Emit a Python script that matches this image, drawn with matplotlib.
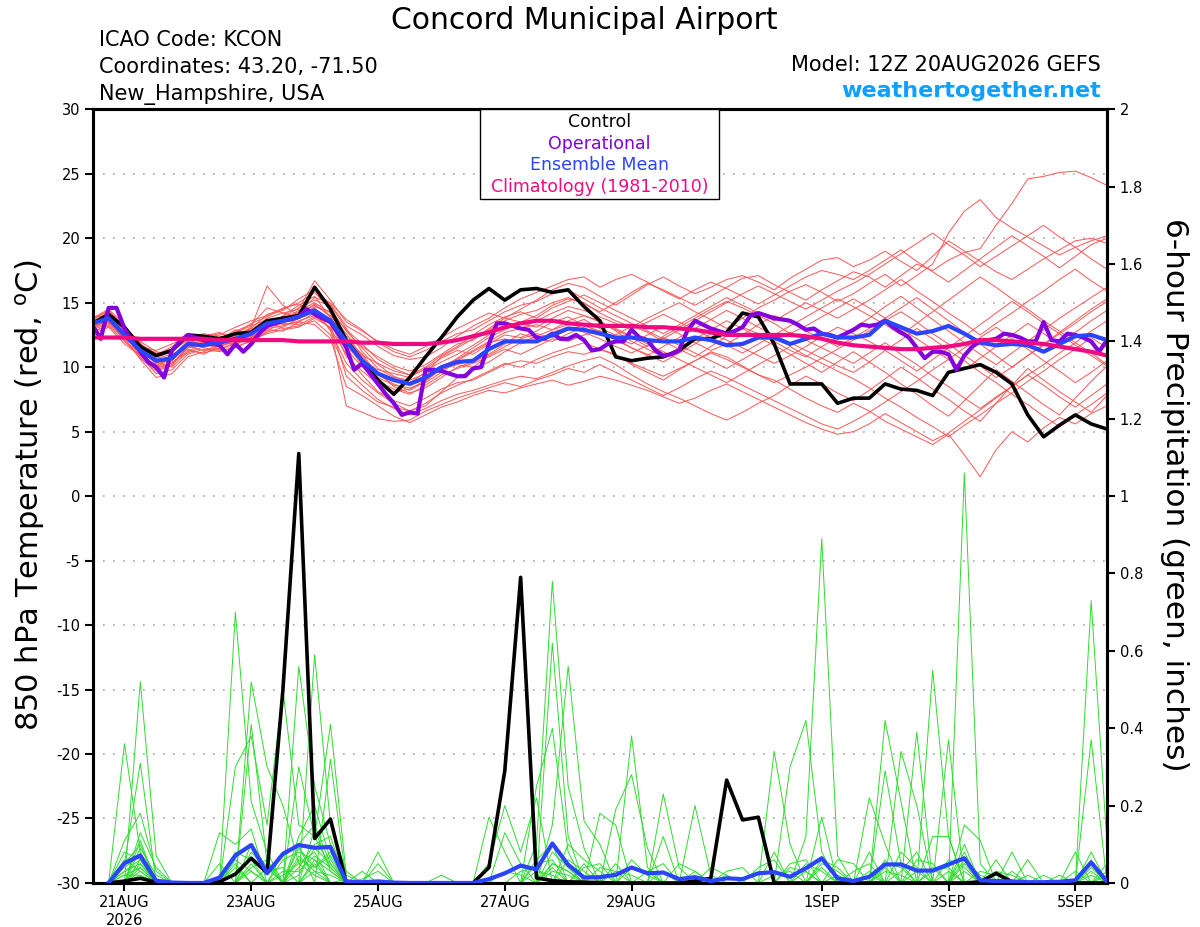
import numpy as np
import pandas as pd
import matplotlib
matplotlib.use('Agg')
import matplotlib.pyplot as plt
from matplotlib.patches import Rectangle

plt.rcParams['font.family'] = ['DejaVu Sans']
plt.rcParams['mathtext.fontset'] = 'dejavusans'
plt.rcParams['axes.unicode_minus'] = False

# GEFS 12Z 20AUG2026 run, 6-hourly out to 384 h (operational is 3-hourly)
times = pd.date_range('2026-08-20 12:00', periods=65, freq='6h')
op_times = pd.date_range('2026-08-20 12:00', periods=129, freq='3h')
precip_times = times[1:]

tick_dates = pd.to_datetime(['2026-08-21', '2026-08-23', '2026-08-25', '2026-08-27',
                             '2026-08-29', '2026-09-01', '2026-09-03', '2026-09-05'])
tick_labels = ['21AUG\n2026', '23AUG', '25AUG', '27AUG', '29AUG', '1SEP', '3SEP', '5SEP']

# 850 hPa temperature (C)
control_t = [13.4, 14.1, 13.1, 11.6, 10.9, 11.3, 12.5, 12.4, 12.2, 12.6, 12.7, 13.6, 13.8, 14.0, 16.2, 14.5, 12.1,
             10.5, 9.0, 7.9, 9.2, 10.8, 12.3, 13.9, 15.2, 16.1, 15.2, 16.0, 16.1, 15.8, 16.0, 14.7, 13.6,
             10.8, 10.5, 10.7, 10.8, 11.3, 12.2, 12.2, 12.7, 14.2, 13.9, 11.8, 8.7, 8.7, 8.7, 7.2, 7.6,
             7.6, 8.7, 8.3, 8.2, 7.8, 9.6, 9.9, 10.2, 9.6, 8.7, 6.3, 4.6, 5.5, 6.3, 5.6, 5.2]
mean_t = [13.4, 13.8, 12.5, 11.3, 10.5, 10.7, 11.8, 11.7, 11.9, 12.2, 12.6, 13.4, 13.6, 13.9, 14.4, 13.6, 12.0,
          10.5, 9.5, 9.0, 8.7, 9.2, 10.0, 10.4, 10.5, 11.4, 12.0, 12.0, 12.0, 12.5, 13.0, 12.9, 12.6,
          12.3, 12.3, 12.1, 12.0, 12.0, 12.3, 12.1, 11.7, 11.8, 12.3, 12.3, 11.8, 12.2, 12.6, 12.3, 12.3,
          12.5, 13.6, 13.1, 12.6, 12.8, 13.2, 12.6, 11.9, 11.7, 11.8, 11.7, 11.2, 11.8, 12.4, 12.5, 12.1]
clim_t = [12.3, 12.3, 12.3, 12.2, 12.2, 12.2, 12.2, 12.2, 12.1, 12.1, 12.1, 12.1, 12.1, 12.0, 12.0, 12.0, 12.0,
          11.9, 11.9, 11.8, 11.8, 11.8, 11.9, 12.1, 12.4, 12.7, 13.1, 13.4, 13.6, 13.6, 13.4, 13.3, 13.2,
          13.2, 13.2, 13.1, 13.1, 13.0, 12.9, 12.7, 12.5, 12.5, 12.5, 12.5, 12.5, 12.4, 12.2, 11.9, 11.7,
          11.6, 11.5, 11.4, 11.4, 11.5, 11.6, 11.8, 12.1, 12.1, 12.0, 11.9, 11.8, 11.6, 11.4, 11.2, 10.9]
oper_t = [13.2, 12.2, 14.6, 14.6, 13.0, 12.0, 11.2, 10.4, 10.0, 9.2, 11.3, 12.0, 12.5, 12.3, 12.1, 11.9,
          11.7, 11.0, 11.8, 11.2, 11.8, 12.6, 13.2, 13.4, 13.6, 13.7, 13.9, 14.5, 14.1, 13.8, 13.5, 12.6, 11.5,
          9.8, 10.3, 9.5, 8.7, 7.9, 7.2, 6.3, 6.5, 6.4, 9.8, 9.8, 9.7, 9.5, 9.3, 9.3, 9.9,
          10.0, 11.8, 13.4, 13.4, 13.2, 13.0, 12.9, 12.3, 12.2, 12.6, 12.2, 12.2, 12.5, 12.1, 11.3, 11.4,
          11.8, 12.0, 12.0, 12.9, 12.3, 12.1, 11.3, 10.9, 11.0, 11.3, 12.8, 13.6, 13.3, 13.0, 12.8, 12.6,
          12.8, 13.1, 14.0, 14.2, 14.0, 13.8, 13.7, 13.6, 13.3, 12.9, 13.0, 12.6, 12.5, 12.3, 12.6, 12.9,
          13.3, 13.2, 13.3, 13.6, 13.1, 12.7, 12.3, 11.5, 10.7, 11.2, 11.2, 11.0, 9.8, 10.9, 11.6, 12.0,
          12.1, 12.2, 12.6, 12.5, 12.3, 12.0, 12.0, 13.5, 12.1, 12.0, 12.6, 12.5, 12.3, 12.0, 11.2, 12.1]

t_m01 = [13.2, 14.0, 12.8, 11.0, 9.8, 10.2, 11.5, 12.0, 12.3, 12.5, 13.0, 14.1, 14.5, 15.0, 15.8, 14.5, 12.8,
         11.5, 10.2, 9.3, 8.8, 9.6, 10.8, 11.5, 12.2, 13.0, 13.8, 14.5, 15.2, 16.0, 16.5, 16.2, 15.5,
         14.8, 15.6, 16.4, 17.0, 16.3, 15.7, 16.2, 16.8, 17.1, 16.6, 16.0, 16.9, 17.6, 18.3, 18.5, 17.8,
         18.3, 19.0, 18.2, 17.5, 18.6, 19.8, 19.0, 18.2, 17.4, 16.8, 17.6, 18.4, 19.1, 19.8, 20.0, 19.6]
t_m02 = [13.6, 13.5, 12.2, 11.5, 10.8, 11.2, 12.2, 12.0, 11.6, 12.0, 12.4, 13.0, 13.2, 13.6, 14.0, 13.0, 11.0,
         9.4, 8.1, 7.4, 7.0, 7.6, 8.3, 8.8, 9.0, 9.6, 10.2, 10.5, 10.3, 10.8, 11.2, 11.0, 11.4,
         11.0, 10.2, 9.6, 9.0, 9.8, 10.5, 11.2, 10.8, 10.1, 9.4, 9.0, 8.3, 7.6, 7.0, 6.5, 7.2,
         6.6, 5.8, 5.2, 4.6, 4.0, 4.8, 3.2, 1.5, 3.6, 5.0, 4.2, 5.3, 6.1, 5.6, 6.4, 7.0]
t_m03 = [13.0, 13.8, 13.0, 12.0, 11.2, 11.0, 11.6, 11.3, 11.5, 12.8, 13.3, 14.6, 14.2, 14.5, 16.7, 15.2, 13.5,
         12.8, 12.0, 11.4, 11.0, 11.6, 12.3, 13.0, 13.6, 14.2, 13.8, 13.5, 14.0, 14.8, 15.3, 15.0, 14.2,
         13.6, 13.1, 13.8, 14.4, 15.0, 14.3, 13.7, 13.0, 13.8, 14.6, 15.2, 15.9, 16.4, 15.8, 15.1, 15.7,
         16.5, 17.2, 16.3, 17.1, 18.0, 20.4, 22.1, 23.0, 21.6, 20.8, 20.1, 19.4, 18.7, 19.3, 19.8, 20.2]
t_m04 = [13.8, 14.3, 12.6, 10.8, 9.5, 9.8, 11.0, 11.4, 11.2, 11.6, 12.0, 12.8, 13.5, 14.2, 14.8, 14.0, 12.6,
         10.8, 9.6, 8.5, 8.0, 8.4, 9.2, 10.0, 10.4, 11.0, 11.8, 12.6, 12.2, 12.0, 12.6, 13.1, 13.4,
         12.9, 12.3, 11.6, 12.4, 13.1, 13.8, 14.5, 15.1, 14.6, 14.0, 13.4, 12.6, 13.2, 13.9, 14.6, 15.3,
         14.6, 13.8, 13.0, 12.2, 11.4, 10.6, 9.8, 10.7, 11.6, 12.5, 13.4, 12.6, 11.8, 12.7, 13.6, 14.4]
t_m05 = [12.8, 13.2, 12.0, 11.2, 10.6, 10.5, 11.9, 12.3, 12.6, 12.3, 12.7, 13.5, 13.0, 13.2, 13.6, 12.5, 9.8,
         8.6, 7.5, 6.8, 6.3, 6.8, 7.4, 7.9, 8.2, 8.6, 9.0, 9.3, 9.1, 9.6, 10.1, 10.5, 10.8,
         10.2, 9.4, 8.7, 8.1, 7.6, 7.0, 6.4, 5.9, 6.5, 7.2, 7.8, 8.6, 9.3, 8.7, 8.0, 7.4,
         8.2, 9.1, 10.0, 9.2, 8.3, 7.5, 6.6, 5.8, 7.2, 8.6, 9.9, 9.0, 8.1, 7.3, 6.5, 7.8]
t_m06 = [13.5, 14.1, 13.2, 11.8, 11.0, 11.4, 12.5, 12.2, 12.0, 11.8, 12.2, 13.0, 14.0, 14.8, 15.5, 13.8, 11.6,
         10.4, 9.8, 9.5, 9.2, 9.9, 10.7, 11.3, 11.0, 11.8, 12.5, 12.3, 12.8, 13.5, 13.9, 13.2, 12.8,
         12.3, 11.8, 12.5, 13.2, 12.6, 11.9, 11.3, 11.8, 12.5, 13.3, 14.0, 13.5, 12.8, 12.2, 11.6, 12.3,
         13.0, 13.8, 14.6, 15.4, 14.5, 13.6, 12.7, 11.8, 10.9, 10.0, 10.9, 11.8, 12.7, 13.6, 14.5, 15.3]
t_m07 = [13.1, 13.6, 12.3, 10.6, 9.2, 9.5, 10.8, 11.2, 11.8, 12.4, 13.1, 16.3, 14.8, 14.0, 14.6, 12.8, 10.3,
         9.0, 8.0, 7.2, 6.6, 7.0, 8.1, 9.2, 9.8, 10.4, 11.2, 11.9, 12.4, 12.9, 13.6, 14.0, 13.6,
         12.8, 12.0, 11.4, 10.8, 11.5, 12.2, 12.9, 13.6, 13.0, 12.3, 11.7, 11.0, 10.3, 9.6, 10.4, 11.2,
         10.4, 9.6, 8.7, 7.9, 7.0, 6.2, 7.4, 8.6, 9.8, 8.9, 8.0, 7.1, 6.3, 7.6, 8.9, 10.1]
t_m08 = [13.9, 14.0, 12.9, 11.6, 10.3, 10.8, 12.0, 11.8, 12.1, 12.9, 12.6, 13.1, 13.4, 13.3, 13.9, 13.4, 12.4,
         11.6, 10.8, 10.1, 9.7, 10.2, 11.0, 11.8, 12.1, 12.9, 13.6, 14.1, 14.4, 15.0, 15.4, 14.9, 14.3,
         15.0, 15.8, 16.5, 16.0, 15.4, 14.8, 15.5, 16.2, 16.9, 17.1, 16.4, 15.8, 15.2, 16.0, 16.7, 17.4,
         17.0, 16.2, 17.1, 18.0, 17.5, 18.3, 18.9, 19.2, 21.0, 22.7, 24.6, 24.8, 25.1, 25.2, 24.7, 24.1]
t_m09 = [12.6, 13.1, 11.8, 10.9, 10.0, 10.3, 11.3, 11.1, 11.4, 11.8, 12.5, 13.6, 13.9, 14.6, 15.2, 14.8, 13.0,
         11.2, 9.9, 9.2, 9.0, 9.5, 10.1, 10.6, 11.3, 12.0, 12.7, 13.0, 13.3, 12.9, 13.3, 13.7, 13.0,
         12.5, 13.2, 12.7, 12.0, 11.4, 10.8, 11.6, 12.4, 13.1, 12.6, 12.0, 11.3, 10.8, 11.6, 12.3, 13.0,
         13.8, 14.7, 15.5, 14.6, 13.7, 12.8, 11.9, 11.0, 10.2, 11.1, 12.0, 12.9, 13.8, 14.6, 15.4, 16.2]
t_m10 = [13.3, 13.9, 12.7, 11.4, 10.9, 11.6, 12.3, 12.6, 12.4, 12.0, 12.3, 12.9, 12.8, 13.5, 13.3, 12.2, 8.5,
         7.8, 7.0, 6.2, 5.7, 6.3, 6.9, 7.3, 7.8, 8.2, 8.0, 8.4, 8.7, 9.0, 8.6, 8.9, 9.3,
         9.0, 8.6, 8.2, 7.7, 7.2, 7.6, 8.2, 8.7, 8.1, 7.5, 6.9, 6.3, 5.7, 5.2, 4.8, 5.0,
         5.6, 6.4, 5.7, 5.0, 4.3, 4.9, 5.8, 6.7, 7.6, 8.5, 9.4, 8.6, 7.7, 6.9, 7.8, 8.7]
t_m11 = [13.7, 14.4, 13.1, 11.9, 10.4, 10.0, 11.2, 11.9, 12.5, 13.1, 13.6, 14.0, 14.4, 15.3, 16.0, 14.9, 13.2,
         12.5, 11.6, 10.9, 10.6, 10.8, 11.5, 12.4, 13.2, 13.8, 14.6, 15.3, 15.8, 16.3, 16.8, 17.0, 16.2,
         16.8, 17.2, 16.6, 15.9, 15.3, 16.0, 16.6, 16.1, 15.5, 14.9, 15.6, 16.3, 17.0, 17.5, 17.2, 16.8,
         17.5, 18.3, 19.1, 18.2, 17.4, 16.6, 17.5, 18.4, 19.3, 20.2, 19.4, 18.6, 17.7, 18.6, 19.5, 20.0]
t_m12 = [12.9, 13.4, 12.4, 11.1, 10.1, 10.9, 12.0, 11.5, 11.3, 11.5, 12.1, 12.6, 12.9, 13.1, 13.8, 13.1, 11.9,
         10.1, 8.9, 8.3, 7.9, 8.6, 9.4, 9.9, 10.3, 10.8, 11.4, 11.0, 11.6, 12.2, 12.0, 12.5, 12.8,
         12.2, 11.5, 11.0, 10.4, 11.1, 11.8, 12.6, 12.1, 11.5, 10.9, 10.3, 10.9, 11.6, 12.4, 13.1, 12.6,
         12.0, 11.3, 10.5, 9.7, 10.6, 11.5, 12.4, 13.3, 14.2, 15.1, 14.3, 13.4, 12.6, 11.7, 10.9, 10.1]
t_m13 = [13.4, 13.7, 12.1, 10.7, 9.7, 10.1, 11.7, 12.1, 11.9, 12.3, 12.9, 13.8, 14.2, 13.9, 14.3, 13.5, 10.8,
         9.7, 8.7, 8.1, 8.3, 9.0, 9.8, 10.2, 10.0, 10.9, 11.6, 12.2, 12.6, 12.3, 12.9, 13.3, 12.7,
         12.1, 11.5, 10.9, 11.6, 12.3, 13.0, 13.7, 14.4, 13.8, 13.1, 12.5, 13.2, 13.9, 14.6, 15.3, 14.7,
         14.0, 13.3, 12.5, 13.4, 14.3, 15.2, 16.1, 17.0, 16.2, 15.3, 14.5, 13.6, 12.8, 11.9, 11.1, 10.2]
t_m14 = [13.6, 14.2, 12.9, 11.7, 11.1, 11.3, 12.1, 11.7, 11.6, 12.1, 12.8, 13.3, 13.7, 14.4, 15.0, 14.2, 12.0,
         10.9, 10.3, 9.7, 9.4, 9.8, 10.4, 11.0, 11.7, 12.5, 13.2, 13.0, 13.6, 14.2, 14.7, 14.4, 13.9,
         13.4, 12.9, 13.5, 14.1, 13.5, 12.9, 12.3, 11.7, 11.1, 11.8, 12.5, 11.9, 11.3, 10.7, 10.1, 9.6,
         10.4, 11.3, 12.1, 13.0, 12.2, 11.3, 10.5, 9.6, 8.8, 7.9, 7.1, 6.2, 5.4, 6.3, 7.1, 8.0]
t_m15 = [13.2, 13.6, 12.5, 11.3, 10.7, 11.0, 11.4, 11.0, 11.7, 12.6, 13.4, 13.9, 14.6, 14.9, 14.1, 13.0, 7.0,
         6.5, 6.0, 5.8, 5.9, 6.6, 7.1, 7.6, 8.0, 8.4, 8.8, 8.5, 9.0, 9.4, 9.9, 9.6, 10.2,
         9.6, 9.0, 8.4, 7.8, 8.4, 9.1, 9.7, 9.2, 8.6, 8.0, 7.4, 6.8, 6.2, 5.6, 5.2, 5.8,
         6.5, 7.3, 8.1, 8.9, 9.8, 10.6, 11.5, 12.3, 13.1, 12.2, 11.4, 10.5, 9.7, 8.8, 9.6, 10.5]
t_m16 = [13.0, 13.5, 12.6, 11.5, 10.2, 10.6, 11.8, 12.4, 12.7, 12.2, 12.0, 12.7, 13.1, 13.8, 14.7, 14.3, 12.9,
         11.8, 10.6, 9.9, 9.4, 10.0, 10.9, 11.6, 12.5, 13.3, 13.9, 14.3, 13.8, 14.6, 15.1, 15.6, 15.0,
         14.4, 13.8, 13.2, 12.6, 13.3, 14.0, 14.7, 15.4, 14.8, 14.2, 13.6, 14.3, 15.0, 14.4, 13.8, 14.5,
         15.2, 16.0, 16.8, 15.9, 15.1, 14.2, 13.4, 12.5, 13.4, 14.2, 15.1, 15.9, 16.8, 17.6, 16.7, 15.9]
t_m17 = [13.8, 14.5, 13.3, 11.4, 10.5, 10.4, 11.1, 11.6, 12.2, 12.7, 13.2, 13.7, 13.3, 13.5, 14.2, 13.7, 11.4,
         10.0, 9.2, 8.6, 8.4, 8.8, 9.6, 10.5, 11.2, 11.9, 12.2, 11.8, 12.1, 12.7, 13.1, 12.7, 12.2,
         11.6, 11.1, 11.7, 12.3, 11.7, 11.1, 10.5, 9.9, 10.6, 11.3, 12.0, 12.7, 12.1, 11.5, 10.9, 10.3,
         11.1, 11.9, 11.0, 10.2, 9.3, 8.5, 7.6, 6.8, 7.7, 8.5, 9.4, 10.2, 11.1, 11.9, 12.8, 13.6]
t_m18 = [13.3, 13.8, 12.0, 10.9, 10.0, 10.7, 11.9, 12.2, 12.0, 11.7, 12.5, 13.2, 13.8, 14.1, 14.9, 13.9, 12.2,
         11.0, 9.4, 8.7, 8.2, 8.9, 9.9, 10.7, 11.5, 12.3, 12.9, 13.4, 13.1, 13.8, 14.4, 14.0, 13.5,
         13.0, 12.4, 11.8, 11.2, 10.6, 10.0, 9.4, 8.8, 9.5, 10.2, 10.9, 11.6, 10.9, 10.3, 9.7, 9.1,
         8.4, 7.6, 6.9, 6.1, 5.4, 4.6, 5.5, 6.3, 7.2, 8.0, 8.9, 9.7, 10.6, 11.4, 12.3, 11.5]
t_m19 = [12.7, 13.3, 12.2, 11.6, 11.3, 11.8, 12.4, 11.9, 11.4, 11.9, 12.3, 13.1, 13.6, 14.3, 15.4, 15.0, 13.7,
         12.9, 11.9, 11.2, 10.8, 11.3, 12.0, 12.6, 12.9, 13.6, 14.3, 14.8, 15.1, 15.7, 16.0, 15.3, 14.6,
         14.0, 13.4, 12.8, 12.2, 12.9, 13.6, 14.3, 15.0, 15.7, 16.3, 15.7, 15.1, 14.5, 15.2, 15.9, 16.5,
         17.2, 18.0, 18.8, 19.6, 20.4, 19.5, 18.7, 17.8, 18.6, 19.4, 20.2, 21.0, 20.1, 19.3, 18.4, 17.6]
t_m20 = [13.5, 14.0, 12.7, 11.0, 9.9, 10.3, 11.5, 11.8, 12.3, 12.6, 12.9, 13.5, 13.9, 14.0, 14.5, 13.3, 9.3,
         8.2, 7.3, 6.9, 6.6, 7.2, 8.0, 8.6, 9.1, 9.7, 10.3, 10.0, 10.6, 11.1, 11.5, 11.9, 11.4,
         10.9, 10.3, 9.8, 9.3, 9.9, 10.5, 11.1, 10.6, 10.0, 9.4, 8.8, 9.4, 10.0, 10.7, 11.4, 12.1,
         12.8, 13.6, 14.3, 13.5, 12.6, 11.8, 10.9, 10.1, 9.2, 10.0, 10.9, 11.7, 12.6, 13.4, 14.3, 15.1]
members_t = [t_m01, t_m02, t_m03, t_m04, t_m05, t_m06, t_m07, t_m08, t_m09, t_m10,
             t_m11, t_m12, t_m13, t_m14, t_m15, t_m16, t_m17, t_m18, t_m19, t_m20]

# 6-hour precipitation (inches), valid 18Z 20AUG onward
control_p = [0, 0.005, 0.012, 0.002, 0, 0, 0, 0.003, 0.023, 0.064, 0.026, 0.50, 1.11, 0.115, 0.165, 0,
             0, 0, 0, 0, 0, 0, 0, 0, 0.04, 0.29, 0.79, 0.013, 0.006, 0.003, 0.002, 0.001,
             0, 0, 0, 0, 0, 0.005, 0.012, 0.266, 0.163, 0.17, 0, 0, 0, 0, 0, 0,
             0, 0, 0, 0, 0, 0, 0, 0.003, 0.025, 0.003, 0, 0, 0, 0, 0, 0]
mean_p = [0, 0.051, 0.071, 0.006, 0.001, 0, 0, 0.014, 0.071, 0.098, 0.025, 0.075, 0.098, 0.091, 0.093, 0.003,
          0.002, 0.004, 0.001, 0, 0, 0, 0, 0, 0.01, 0.025, 0.045, 0.035, 0.102, 0.047, 0.014, 0.015,
          0.021, 0.04, 0.025, 0.027, 0.01, 0.015, 0.005, 0.012, 0.01, 0.025, 0.028, 0.016, 0.038, 0.064, 0.012, 0.005,
          0.016, 0.048, 0.048, 0.032, 0.032, 0.048, 0.064, 0.007, 0.005, 0.004, 0.002, 0.002, 0.003, 0.007, 0.053, 0.004]

# members in hundredths of an inch
p_m01 = [0,36,8,0,0,0,0,0, 70,21,8,0,10,15,5,0, 0,0,0,0,0,0,0,0, 0,0,0,10,78,25,9,0,
         0,38,4,0,0,0,0,0, 0,0,0,0,12,89,7,0, 0,0,0,0,0,0,15,11, 0,0,0,0,0,0,8,0]
p_m02 = [0,0,52,7,0,0,0,0, 0,52,30,20,5,8,0,0, 0,0,0,0,0,0,0,0, 0,13,5,0,15,56,16,10,
         0,0,0,0,0,0,0,0, 0,0,0,0,0,0,0,0, 0,42,21,0,0,0,106,5, 0,8,0,0,0,0,0,0]
p_m03 = [0,5,31,0,0,0,0,0, 30,38,15,50,15,12,4,0, 0,8,0,0,0,0,0,0, 17,8,0,0,62,12,0,0,
         0,0,0,23,4,0,0,0, 0,0,0,0,0,0,0,0, 0,0,0,0,55,12,0,0, 0,0,0,0,0,0,73,10]
p_m04 = [0,11,18,3,0,0,0,13, 10,14,0,0,56,25,10,0, 3,0,0,0,0,0,0,0, 0,0,0,25,40,8,0,0,
         19,28,9,0,0,0,0,0, 0,0,34,10,0,0,0,0, 0,0,34,20,0,0,0,0, 0,0,0,0,0,0,37,0]
p_m05 = [0,0,11,0,0,0,0,0, 0,41,5,0,0,59,15,3, 0,0,0,0,0,0,0,0, 0,0,0,0,0,0,0,18,
         15,0,0,0,0,20,2,0, 0,0,0,30,42,8,0,0, 22,10,0,39,0,37,0,0, 0,0,6,0,0,0,0,0]
p_m06 = [0,8,6,0,0,0,0,0, 5,0,0,0,30,12,41,2, 0,0,0,0,0,2,0,0, 5,20,8,22,0,0,5,0,
         0,0,0,0,0,0,0,0, 0,0,8,0,0,17,0,0, 0,29,5,0,0,0,10,0, 6,0,0,0,0,8,0,0]
p_m07 = [0,0,5,0,0,0,0,5, 0,5,0,8,10,0,32,0, 0,5,0,0,0,0,0,0, 0,0,0,6,10,0,0,0,
         0,0,0,12,0,0,0,0, 0,0,0,0,0,0,0,0, 8,0,0,0,12,12,0,0, 0,0,0,2,0,0,0,3]
p_m08 = [0,4,7,0,0,0,0,0, 0,0,4,0,6,4,8,0, 0,0,0,0,0,0,0,0, 0,0,0,0,8,4,0,0,
         5,0,0,0,0,0,0,0, 0,0,0,0,0,0,6,5, 0,6,0,0,0,0,8,0, 0,3,0,0,0,0,0,0]
p_m09 = [0,0,4,0,0,0,0,0, 0,3,0,6,8,6,0,1, 0,0,0,0,0,0,0,0, 0,0,3,4,0,0,0,0,
         0,6,2,0,0,0,0,0, 0,0,0,5,6,0,0,0, 0,0,0,6,5,0,0,0, 0,0,0,0,0,3,0,0]
p_m10 = [0,3,6,0,0,0,0,0, 4,0,0,0,12,20,6,0, 0,0,0,0,0,0,0,0, 0,0,0,0,5,3,0,0,
         0,0,0,0,0,0,0,3, 4,0,0,0,0,5,3,0, 0,0,8,4,0,0,0,0, 0,0,0,0,0,0,4,0]
p_m11 = [0,0,3,0,0,0,0,0, 0,0,0,0,4,10,12,0, 1,3,0,0,0,0,0,0, 0,0,0,0,0,6,3,0,
         0,0,0,0,5,3,0,0, 0,0,0,0,3,0,0,0, 0,4,0,0,0,6,4,0, 0,0,0,0,0,0,0,2]
p_m12 = [0,2,2,0,0,0,0,0, 0,8,3,4,0,5,0,0, 0,0,0,0,0,0,0,0, 0,0,0,3,2,0,0,4,
         3,0,0,0,0,0,0,0, 0,4,6,0,0,0,0,0, 3,0,0,0,0,0,0,3, 2,0,0,0,0,0,6,0]
p_m13 = [0,0,9,2,0,0,0,0, 0,0,0,3,3,7,4,0, 0,0,0,0,0,0,0,0, 0,3,2,0,0,0,0,0,
         0,0,3,5,0,0,0,0, 0,0,0,0,0,6,4,0, 0,0,0,0,3,4,0,0, 0,0,2,0,0,0,0,0]
p_m14 = [0,6,3,0,0,0,0,0, 8,6,0,0,0,3,2,0, 0,0,0,0,0,0,0,0, 0,0,0,0,3,2,0,0,
         0,0,0,0,0,0,4,2, 0,0,0,0,0,0,0,3, 5,0,0,0,0,0,5,0, 0,0,0,0,2,0,0,0]
p_m15 = [0,0,13,4,0,0,0,0, 0,0,0,0,2,9,5,0, 0,0,0,0,0,0,0,0, 0,0,0,0,0,10,6,3,
         0,0,0,0,0,0,0,0, 0,0,0,4,3,0,0,0, 0,0,3,8,0,0,0,0, 0,0,0,0,0,0,3,0]
p_m16 = [0,5,10,0,0,0,0,0, 0,4,6,0,7,3,0,0, 0,0,0,0,0,0,0,0, 0,0,0,0,4,0,0,0,
         0,4,3,0,0,0,0,0, 0,0,0,0,0,0,2,0, 0,5,4,0,0,0,0,0, 3,2,0,0,0,0,0,0]
p_m17 = [0,0,2,0,0,0,0,0, 6,3,0,0,0,6,3,0, 0,0,0,0,0,0,0,0, 0,0,0,0,0,0,4,5,
         0,0,0,3,0,0,0,0, 0,0,2,3,0,0,0,0, 0,0,0,0,4,0,6,2, 0,0,0,0,0,0,0,0]
p_m18 = [0,3,5,0,0,0,0,0, 0,0,0,2,5,2,0,0, 0,0,0,0,0,0,0,0, 0,0,0,5,6,0,0,0,
         0,0,0,0,0,0,0,2, 0,0,0,0,0,4,0,0, 2,0,0,0,0,3,0,0, 0,0,0,0,0,0,0,5]
p_m19 = [0,0,6,0,0,0,0,0, 0,0,0,0,9,4,7,0, 0,0,0,0,0,0,0,0, 0,0,0,0,0,0,0,0,
         3,2,0,0,0,0,0,0, 0,0,0,0,5,3,0,0, 0,0,0,3,0,0,0,0, 0,0,0,0,0,0,2,0]
p_m20 = [0,2,4,0,0,0,0,0, 0,10,4,0,0,14,3,0, 0,0,0,0,0,0,0,0, 0,0,0,0,5,3,0,0,
         0,0,0,0,0,3,0,0, 0,0,0,0,0,0,0,0, 0,3,2,0,0,0,3,0, 0,0,0,0,0,0,0,0]
members_p = [p_m01, p_m02, p_m03, p_m04, p_m05, p_m06, p_m07, p_m08, p_m09, p_m10,
             p_m11, p_m12, p_m13, p_m14, p_m15, p_m16, p_m17, p_m18, p_m19, p_m20]

RED = '#ff5555'
GREEN = '#2edc2e'
PURPLE = '#8400dc'
BLUE = '#2a44ff'
PINK = '#f00a82'

fig = plt.figure(figsize=(12, 9.27), dpi=100)
ax = fig.add_axes([0.0773, 0.0475, 0.8452, 0.8346])
ax2 = ax.twinx()

for y in range(-25, 30, 5):
    ax.axhline(y, color='#a8a8a8', lw=1.2, ls=(0, (1, 5)), zorder=0)

for m in members_t:
    ax.plot(times, m, color=RED, lw=0.7, zorder=1)
ax.plot(times, control_t, color='black', lw=2.6, zorder=3)
ax.plot(op_times, oper_t, color=PURPLE, lw=3, zorder=4)
ax.plot(times, mean_t, color=BLUE, lw=3, zorder=5)
ax.plot(times, clim_t, color=PINK, lw=3, zorder=6)

for m in members_p:
    ax2.plot(precip_times, np.array(m) / 100, color=GREEN, lw=0.7, zorder=1)
ax2.plot(precip_times, control_p, color='black', lw=2.6, zorder=3)
ax2.plot(precip_times, mean_p, color=BLUE, lw=3, zorder=4)

ax.set_xlim(times[0], times[-1])
ax.set_ylim(-30, 30)
ax2.set_ylim(0, 2)
ax.set_yticks(range(-30, 31, 5))
ax2.set_yticks(np.arange(0, 2.01, 0.2))
ax2.set_yticklabels(['0', '0.2', '0.4', '0.6', '0.8', '1', '1.2', '1.4', '1.6', '1.8', '2'])
ax.set_xticks(tick_dates)
ax.set_xticklabels(tick_labels)

for a in (ax, ax2):
    a.tick_params(direction='out', length=6, width=1.5, labelsize=10.5, pad=3)
    for s in a.spines.values():
        s.set_linewidth(2.2)

# axis titles placed in figure space
fig.text(0.025, 0.466, r'850 hPa Temperature (red, $^{\rm o}$C)', fontsize=22,
         rotation=90, ha='center', va='center')
fig.text(0.979, 0.466, '6-hour Precipitation (green, inches)', fontsize=22.5,
         rotation=270, ha='center', va='center')

# legend box at top centre
ax2.add_patch(Rectangle((0.3818, 0.884), 0.2357, 0.116, transform=ax2.transAxes,
                        facecolor='white', edgecolor='black', lw=1, zorder=20))
leg = [('Control', 'black'), ('Operational', PURPLE), ('Ensemble Mean', BLUE),
       ('Climatology (1981-2010)', PINK)]
for k, (txt, col) in enumerate(leg):
    ax2.text(0.4997, 0.9775 - k * 0.0282, txt, color=col, fontsize=12.5, ha='center',
             va='baseline', transform=ax2.transAxes, zorder=21)

fig.text(0.4873, 0.9687, 'Concord Municipal Airport', fontsize=21.5, ha='center', va='baseline')
fig.text(0.0823, 0.9504, 'ICAO Code: KCON', fontsize=15, va='baseline')
fig.text(0.0823, 0.9213, 'Coordinates: 43.20, -71.50', fontsize=15, va='baseline')
fig.text(0.0823, 0.8921, 'New_Hampshire, USA', fontsize=15, va='baseline')
fig.text(0.9172, 0.9237, 'Model: 12Z 20AUG2026 GEFS', fontsize=15, ha='right', va='baseline')
fig.text(0.9172, 0.8955, 'weathertogether.net', fontsize=16, fontweight='bold',
         color='#0ca0ff', ha='right', va='baseline')

fig.savefig('out.png', dpi=100)
